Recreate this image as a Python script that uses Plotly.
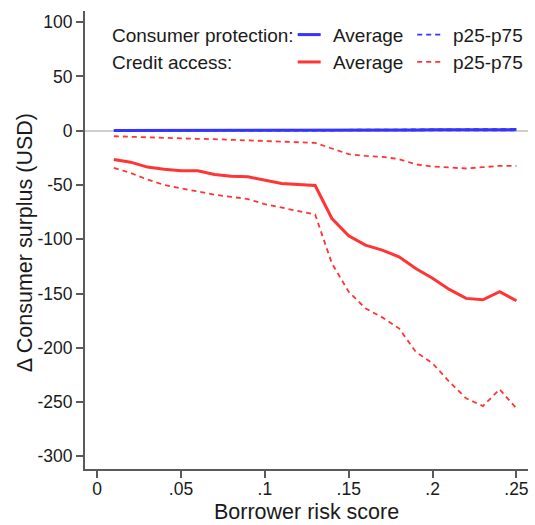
import plotly.graph_objects as go

# Borrower risk score grid
risk = [0.01, 0.02, 0.03, 0.04, 0.05, 0.06, 0.07, 0.08, 0.09, 0.10,
        0.11, 0.12, 0.13, 0.14, 0.15, 0.16, 0.17, 0.18, 0.19, 0.20,
        0.21, 0.22, 0.23, 0.24, 0.25]

# Consumer protection: change in consumer surplus (USD)
cp_avg = [0.1, 0.1, 0.1, 0.2, 0.2, 0.2, 0.2, 0.3, 0.3, 0.3,
          0.3, 0.4, 0.4, 0.5, 0.5, 0.6, 0.6, 0.7, 0.7, 0.8,
          0.8, 0.9, 0.9, 1.0, 1.0]
cp_p25 = [0.0, 0.0, 0.0, 0.0, 0.0, 0.0, 0.0, 0.1, 0.1, 0.1,
          0.1, 0.1, 0.1, 0.2, 0.2, 0.2, 0.2, 0.3, 0.3, 0.3,
          0.3, 0.4, 0.4, 0.4, 0.4]
cp_p75 = [0.3, 0.3, 0.3, 0.4, 0.4, 0.4, 0.5, 0.5, 0.5, 0.6,
          0.6, 0.7, 0.7, 0.8, 0.9, 0.9, 1.0, 1.1, 1.1, 1.2,
          1.3, 1.3, 1.4, 1.5, 1.5]

# Credit access: change in consumer surplus (USD)
ca_avg = [-26.5, -29, -33.5, -35.5, -36.8, -37, -40.3, -42, -42.5, -45.9,
          -48.6, -49.6, -50.5, -80.9, -96.8, -105.4, -110, -116.2, -127, -136,
          -146.2, -154.5, -155.8, -148.4, -156.7]
ca_p25 = [-34.2, -39, -45, -50, -53, -56, -59, -61, -63, -67.7,
          -71, -74, -77.2, -122.3, -148.4, -163.7, -172, -182.1, -203.7, -214.4,
          -231.3, -246.6, -253.7, -238.3, -255.8]
ca_p75 = [-5.1, -5.7, -6.3, -6.9, -7.2, -7.5, -7.8, -8.4, -8.7, -9.7,
          -10.3, -10.6, -11.2, -16.4, -21.6, -23.2, -24.1, -26.2, -31, -33,
          -33.9, -34.8, -33.6, -32.4, -32.4]

x_ticks = [0, 0.05, 0.10, 0.15, 0.20, 0.25]
x_ticklabels = ["0", ".05", ".1", ".15", ".2", ".25"]
y_ticks = [100, 50, 0, -50, -100, -150, -200, -250, -300]
y_ticklabels = ["100", "50", "0", "-50", "-100", "-150", "-200", "-250", "-300"]

BLUE = "#3434FF"
RED = "#FF3434"
FONT = "Liberation Sans, Arial, Helvetica, sans-serif"
DASH = "5px,4px"
TXT = "#1a1a1a"

fig = go.Figure()

def add_line(y, color, width, dash=None):
    fig.add_trace(go.Scatter(
        x=risk, y=y, mode="lines",
        line=dict(color=color, width=width, dash=dash),
        showlegend=False, hoverinfo="skip"))

add_line(ca_p25, RED, 1.8, DASH)
add_line(ca_p75, RED, 1.8, DASH)
add_line(ca_avg, RED, 3)
add_line(cp_p25, BLUE, 1.8, DASH)
add_line(cp_p75, BLUE, 1.8, DASH)
add_line(cp_avg, BLUE, 3)

# Plot-area geometry in pixels, used to place the hand-built legend
L, R, T, B = 85.3, 528.3, 10.7, 469.0
def px(xp):
    return (xp - L) / (R - L)
def py(yp):
    return (B - yp) / (B - T)

annotations = []
shapes = []
rows = [("Consumer protection:", 35.5, 34.3, BLUE),
        ("Credit access:", 62.7, 61.7, RED)]
for label, ty, ly, color in rows:
    for text, xpos in ((label, 110), ("Average", 331), ("p25-p75", 451.5)):
        annotations.append(dict(text=text, x=px(xpos), y=py(ty), xref="paper", yref="paper",
                                xanchor="left", yanchor="middle", showarrow=False,
                                font=dict(size=19, color=TXT, family=FONT)))
    shapes.append(dict(type="line", xref="paper", yref="paper",
                       x0=px(298), x1=px(321), y0=py(ly), y1=py(ly),
                       line=dict(color=color, width=3)))
    shapes.append(dict(type="line", xref="paper", yref="paper",
                       x0=px(417.5), x1=px(441), y0=py(ly), y1=py(ly),
                       line=dict(color=color, width=1.8, dash=DASH)))

# Axis titles
annotations.append(dict(text="Borrower risk score", x=0.5, y=py(512.5), xref="paper", yref="paper",
                        xanchor="center", yanchor="middle", showarrow=False,
                        font=dict(size=21.5, color=TXT, family=FONT)))
annotations.append(dict(text="Δ Consumer surplus (USD)", x=px(25), y=py(242.5),
                        xref="paper", yref="paper", textangle=-90,
                        xanchor="center", yanchor="middle", showarrow=False,
                        font=dict(size=21.5, color=TXT, family=FONT)))

axis_style = dict(showgrid=False, showline=True, linecolor="#5a5a5a", linewidth=2,
                  ticks="outside", ticklen=7, tickwidth=1.5, tickcolor="#5a5a5a",
                  tickfont=dict(size=17.5, color=TXT, family=FONT))

fig.update_layout(
    width=535, height=525,
    margin=dict(l=L, r=535 - R, t=T, b=525 - B),
    paper_bgcolor="white", plot_bgcolor="white",
    font=dict(family=FONT, size=18, color=TXT),
    showlegend=False,
    annotations=annotations,
    shapes=shapes,
    xaxis=dict(range=[-0.0072, 0.2569], tickvals=x_ticks, ticktext=x_ticklabels,
               zeroline=False, ticklabelstandoff=-4, **axis_style),
    yaxis=dict(range=[-311.7, 110.3], tickvals=y_ticks, ticktext=y_ticklabels,
               zeroline=True, zerolinecolor="#cfcfcf", zerolinewidth=2, **axis_style),
)

fig.write_html("out.html")
